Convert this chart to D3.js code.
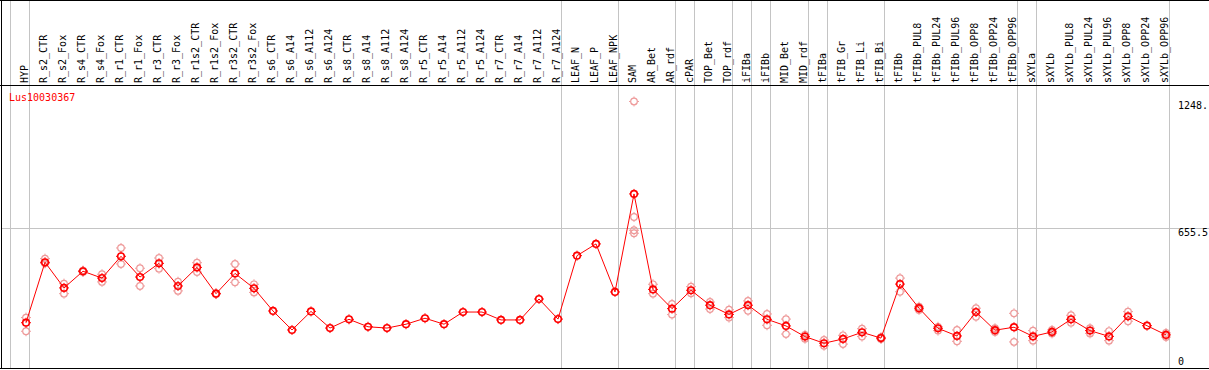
<!DOCTYPE html>
<html>
<head>
<meta charset="utf-8">
<script src="https://cdn.jsdelivr.net/npm/d3@7"></script>
<style>
  body{ margin:0; background:#fff; }
  text{ font-family:"DejaVu Sans Mono", monospace; font-size:10px; }
</style>
</head>
<body>
<script>
var width = 1209, height = 370;

// sample names, left to right
var samples = ["HYP","R_s2_CTR","R_s2_Fox","R_s4_CTR","R_s4_Fox","R_r1_CTR","R_r1_Fox","R_r3_CTR","R_r3_Fox",
  "R_r1s2_CTR","R_r1s2_Fox","R_r3s2_CTR","R_r3s2_Fox","R_s6_CTR","R_s6_A14","R_s6_A112","R_s6_A124",
  "R_s8_CTR","R_s8_A14","R_s8_A112","R_s8_A124","R_r5_CTR","R_r5_A14","R_r5_A112","R_r5_A124",
  "R_r7_CTR","R_r7_A14","R_r7_A112","R_r7_A124","LEAF_N","LEAF_P","LEAF_NPK","SAM","AR_Bet","AR_rdf",
  "cPAR","TOP_Bet","TOP_rdf","iFIBa","iFIBb","MID_Bet","MID_rdf","tFIBa","tFIB_Gr","tFIB_Li","tFIB_Bi",
  "tFIBb","tFIBb_PUL8","tFIBb_PUL24","tFIBb_PUL96","tFIBb_OPP8","tFIBb_OPP24","tFIBb_OPP96",
  "sXYLa","sXYLb","sXYLb_PUL8","sXYLb_PUL24","sXYLb_PUL96","sXYLb_OPP8","sXYLb_OPP24","sXYLb_OPP96"];

// mean expression per sample
var means = [212,495,375,453,421,523,426,490,384,471,348,443,373,267,178,265,187,228,193,187,205,233,205,262,262,
  225,225,323,229,526,581,356,815,368,278,364,294,251,294,228,197,147,116,136,167,140,
  393,280,186,150,262,177,191,148,169,228,175,148,242,198,155];

// replicate values per sample (empty = single sample)
var reps = [[236,172],[512,490],[395,348],[450,456],[439,403],[562,487],[467,384],[515,465],[404,361],[493,449],
  [346,350],[487,401],[392,354],[],[],[],[],[],[],[],[],[],[],[],[],[],[],[],[],[],[],[],
  [1248,707,645,631],[392,348],[300,250],[381,350],[309,276],[273,236],[314,268],[253,200],[229,159],[155,137],
  [131,104],[153,112],[184,147],[136,144],[421,357],[287,272],[193,175],[178,125],[280,240],[186,169],[256,122],
  [175,128],[178,162],[247,212],[186,162],[173,128],[264,219],[],[164,145]];

// group separator lines go before these samples
var groupStarts = ["HYP","R_s2_CTR","LEAF_N","SAM","cPAR","TOP_Bet","iFIBa","iFIBb","MID_Bet","tFIBa","tFIB_Gr","tFIBb","sXYLa","sXYLb"];

var yTicks = [0, 655.5, 1248];
var yTickLabels = ["0","655.5","1248."];
var geneName = "Lus10030367";

var svg = d3.select("body").append("svg")
  .attr("width", width)
  .attr("height", height);

var x = d3.scaleBand().domain(samples).range([10.7, 1169.7]).padding(0);
var y = d3.scaleLinear().domain([0, 1311]).range([368, 88]);

function cx(s){ return x(s) + 15.3; }

// grid lines
groupStarts.forEach(function(s){
  var xx = Math.floor(x(s)) + 0.5;
  svg.append("line").attr("x1", xx).attr("x2", xx).attr("y1", 0).attr("y2", 368)
    .attr("stroke", "#c4c4c4").attr("stroke-width", 1);
});
svg.append("line").attr("x1", 1169.5).attr("x2", 1169.5).attr("y1", 0).attr("y2", 368)
  .attr("stroke", "#c4c4c4");
svg.append("line").attr("x1", 1).attr("x2", width).attr("y1", Math.round(y(655.5)) + 0.5).attr("y2", Math.round(y(655.5)) + 0.5)
  .attr("stroke", "#c4c4c4");

// frame
svg.append("line").attr("x1", 0).attr("x2", width).attr("y1", 0.5).attr("y2", 0.5).attr("stroke", "#000");
svg.append("line").attr("x1", 0).attr("x2", width).attr("y1", 85.5).attr("y2", 85.5).attr("stroke", "#000");
svg.append("line").attr("x1", 0).attr("x2", width).attr("y1", 368.5).attr("y2", 368.5).attr("stroke", "#000");
svg.append("line").attr("x1", 1.5).attr("x2", 1.5).attr("y1", 0).attr("y2", 369).attr("stroke", "#000");

// column labels
samples.forEach(function(s){
  var lx = cx(s) + 2;
  svg.append("text")
    .attr("transform", "translate(" + lx + ",83) rotate(-90)")
    .attr("fill", "#000")
    .text(s);
});

// y tick labels
yTicks.forEach(function(v, i){
  var ty = v == 0 ? 365 : y(v) + 8;
  svg.append("text").attr("x", 1178).attr("y", ty).attr("fill", "#000").text(yTickLabels[i]);
});

svg.append("text").attr("x", 9).attr("y", 101).attr("fill", "#ff0000").text(geneName);

function marker(px, py, color, w){
  var g = svg.append("g").attr("transform", "translate(" + px + "," + py + ")");
  g.append("circle").attr("r", 3.3).attr("fill", "none").attr("stroke", color).attr("stroke-width", w);
  [[0,-5,0,-3.5],[0,3.5,0,5],[-5,0,-3.5,0],[3.5,0,5,0]].forEach(function(t){
    g.append("line").attr("x1", t[0]).attr("y1", t[1]).attr("x2", t[2]).attr("y2", t[3])
      .attr("stroke", color).attr("stroke-width", 1);
  });
}

// replicates
samples.forEach(function(s, i){
  reps[i].forEach(function(v){
    marker(cx(s), y(v), "#ee9a9a", 1.2);
  });
});

// mean line
var line = d3.line().x(function(d, i){ return cx(samples[i]); }).y(function(d){ return y(d); });
svg.append("path").datum(means).attr("d", line).attr("fill", "none").attr("stroke", "#ff0000").attr("stroke-width", 1);

samples.forEach(function(s, i){
  marker(cx(s), y(means[i]), "#ff0000", 1.6);
});
</script>
</body>
</html>
